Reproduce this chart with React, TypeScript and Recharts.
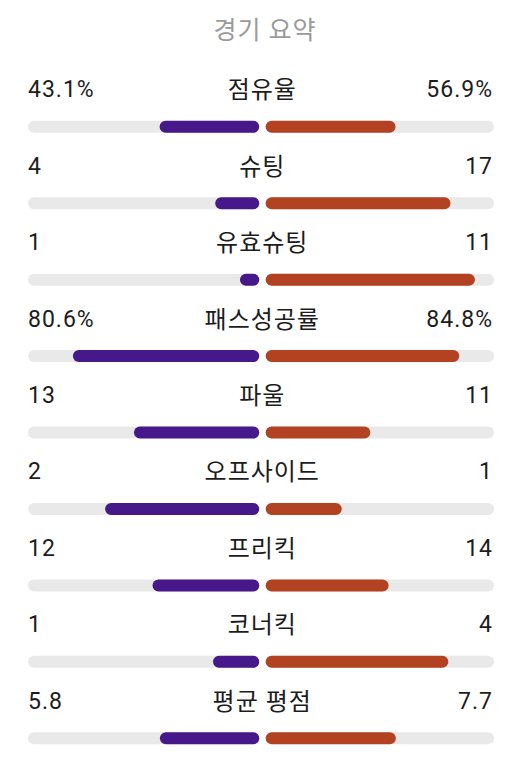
import { Bar, BarChart, LabelList, XAxis, YAxis } from "recharts"

const title = "경기 요약"
const categories = ["점유율", "슈팅", "유효슈팅", "패스성공률", "파울", "오프사이드", "프리킥", "코너킥", "평균 평점"]
const homeValues = [43.1, 4, 1, 80.6, 13, 2, 12, 1, 5.8]
const awayValues = [56.9, 17, 11, 84.8, 11, 1, 14, 4, 7.7]
const units = ["%", "", "", "%", "", "", "", "", ""]

const HOME = "#46188a"
const AWAY = "#b24222"
const TRACK = "#e9e9e9"
const TEXT = "#1c1c1c"
const FONT = "Roboto, 'Noto Sans CJK KR', sans-serif"

// small gap around the centre line, in axis units
const GAP_L = 0.0075
const GAP_R = 0.02

const data = categories.map((name, i) => {
  const l = homeValues[i]
  const r = awayValues[i]
  const pct = units[i] === "%"
  const lr = pct ? l / 100 : l / (l + r)
  const rr = pct ? r / 100 : r / (l + r)
  return {
    name,
    leftText: `${l}${units[i]}`,
    rightText: `${r}${units[i]}`,
    trackL: [-1, -GAP_L],
    trackR: [GAP_R, 1],
    home: [-(GAP_L + lr * (1 - GAP_L)), -GAP_L],
    away: [GAP_R, GAP_R + rr * (1 - GAP_R)],
  }
})

const textProps = { fontSize: 23, fill: TEXT, fontFamily: FONT, letterSpacing: 1 }

const leftLabel = (props: any) => {
  const { x, y, value } = props
  return (
    <text x={x} y={y - 23.5} textAnchor="start" {...textProps}>
      {value}
    </text>
  )
}

const nameLabel = (props: any) => {
  const { x, y, width, value } = props
  return (
    <text x={x + width + 3} y={y - 22.5} textAnchor="middle" {...textProps} fontSize={24}>
      {value}
    </text>
  )
}

const rightLabel = (props: any) => {
  const { x, y, width, value } = props
  return (
    <text x={x + width - 1} y={y - 23.5} textAnchor="end" {...textProps}>
      {value}
    </text>
  )
}

export default function App() {
  return (
    <div
      style={{
        position: "absolute",
        left: 0,
        top: 0,
        width: 530,
        height: 770,
        overflow: "hidden",
        background: "#fff",
      }}
    >
      <div
        style={{
          position: "absolute",
          top: 15,
          left: 0,
          width: 530,
          textAlign: "center",
          fontFamily: FONT,
          fontSize: 25,
          letterSpacing: 1,
          color: "#9a9a9a",
          lineHeight: "32px",
        }}
      >
        {title}
      </div>
      <BarChart
        width={530}
        height={780}
        data={data}
        layout="vertical"
        margin={{ top: 88.8, right: 36, bottom: 3.3, left: 28 }}
        barSize={12}
        barGap={-12}
      >
        <XAxis type="number" domain={[-1, 1]} hide />
        <YAxis type="category" dataKey="name" hide />
        <Bar dataKey="trackL" fill={TRACK} radius={6} isAnimationActive={false}>
          <LabelList dataKey="leftText" content={leftLabel} />
          <LabelList dataKey="name" content={nameLabel} />
        </Bar>
        <Bar dataKey="trackR" fill={TRACK} radius={6} isAnimationActive={false}>
          <LabelList dataKey="rightText" content={rightLabel} />
        </Bar>
        <Bar dataKey="home" fill={HOME} radius={6} isAnimationActive={false} />
        <Bar dataKey="away" fill={AWAY} radius={6} isAnimationActive={false} />
      </BarChart>
    </div>
  )
}
